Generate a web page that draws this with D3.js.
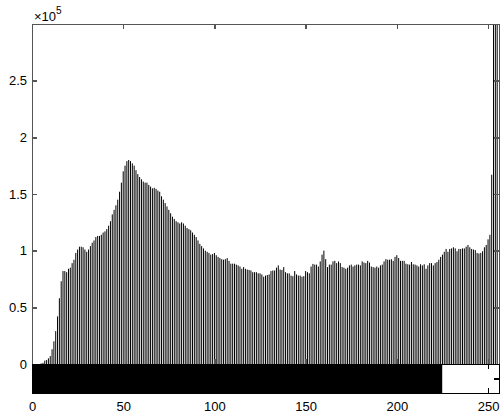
<!DOCTYPE html>
<html>
<head>
<meta charset="utf-8">
<script src="https://cdn.jsdelivr.net/npm/d3@7/dist/d3.min.js"></script>
<style>
  body { margin: 0; background: #fff; }
  text { font-family: "Liberation Sans", Arial, Helvetica, sans-serif; fill: #000; }
  .axis path, .axis line { stroke: #555; stroke-width: 1.5; shape-rendering: crispEdges; }
  .axis text { font-size: 13px; }
</style>
</head>
<body>
<div id="chart"></div>
<script>
// gray levels 0..255 and their pixel counts (in units of 10^5)
var levels = d3.range(0, 256);
var counts = [
  0, 0, 0, 0, 0, 0.005, 0.01, 0.03, 0.035, 0.05,
  0.07, 0.13, 0.2, 0.29, 0.42, 0.58, 0.73, 0.82, 0.82, 0.81,
  0.84, 0.85, 0.89, 0.92, 0.98, 1.01, 1.035, 1.035, 1.03, 1.01,
  0.99, 1.01, 1.04, 1.07, 1.09, 1.12, 1.13, 1.13, 1.14, 1.16,
  1.17, 1.19, 1.22, 1.26, 1.32, 1.36, 1.40, 1.45, 1.52, 1.60,
  1.70, 1.75, 1.79, 1.80, 1.79, 1.77, 1.75, 1.71, 1.675, 1.65,
  1.63, 1.61, 1.60, 1.60, 1.58, 1.565, 1.55, 1.555, 1.545, 1.53,
  1.52, 1.48, 1.45, 1.42, 1.39, 1.36, 1.33, 1.30, 1.28, 1.26,
  1.25, 1.24, 1.25, 1.24, 1.22, 1.20, 1.19, 1.18, 1.16, 1.14,
  1.12, 1.09, 1.06, 1.04, 1.02, 1.00, 0.99, 0.98, 0.965, 0.97,
  0.98, 0.96, 0.945, 0.935, 0.925, 0.92, 0.925, 0.935, 0.91, 0.885,
  0.885, 0.885, 0.877, 0.87, 0.86, 0.84, 0.855, 0.84, 0.833, 0.83,
  0.825, 0.81, 0.81, 0.81, 0.80, 0.80, 0.79, 0.77, 0.78, 0.785,
  0.79, 0.82, 0.825, 0.825, 0.85, 0.87, 0.833, 0.83, 0.855, 0.81,
  0.80, 0.80, 0.78, 0.775, 0.82, 0.79, 0.78, 0.78, 0.77, 0.775,
  0.82, 0.81, 0.80, 0.86, 0.883, 0.877, 0.877, 0.86, 0.905, 0.965,
  1.00, 0.925, 0.855, 0.877, 0.877, 0.905, 0.91, 0.89, 0.905, 0.89,
  0.855, 0.85, 0.84, 0.85, 0.87, 0.877, 0.86, 0.87, 0.877, 0.877,
  0.87, 0.905, 0.895, 0.89, 0.91, 0.895, 0.86, 0.855, 0.85, 0.86,
  0.85, 0.87, 0.877, 0.905, 0.925, 0.92, 0.92, 0.925, 0.91, 0.945,
  0.96, 0.935, 0.91, 0.91, 0.91, 0.885, 0.88, 0.877, 0.90, 0.88,
  0.877, 0.87, 0.86, 0.88, 0.87, 0.88, 0.84, 0.87, 0.89, 0.89,
  0.87, 0.89, 0.90, 0.92, 0.945, 0.965, 0.99, 1.015, 0.99, 1.015,
  1.02, 1.03, 1.02, 0.995, 1.015, 1.015, 1.02, 1.02, 1.035, 1.05,
  1.03, 1.015, 1.01, 1.005, 0.98, 0.975, 0.98, 0.995, 1.03, 1.05,
  1.10, 1.14, 1.67, 3.3, 3.4, 3.5
];
var xTicks = [0, 50, 100, 150, 200, 250];
var yTicks = [0, 0.5, 1, 1.5, 2, 2.5];
var yExponent = "5";
var cbarSplit = 225;   // colour bar turns from black to white here

var width = 501, height = 414;
var box = {left: 32, right: 499, top: 24, bottom: 364};
var cbar = {top: 364, bottom: 393};

var x = d3.scaleLinear().domain([0, 256]).range([box.left, box.right]);
var y = d3.scaleLinear().domain([0, 3]).range([box.bottom, box.top]);
var yc = d3.scaleLinear().domain([0, 1]).range([cbar.bottom, cbar.top]);

var svg = d3.select("#chart").append("svg")
    .attr("width", width)
    .attr("height", height);

svg.append("clipPath").attr("id", "plotclip")
  .append("rect")
    .attr("x", box.left).attr("y", box.top)
    .attr("width", box.right - box.left)
    .attr("height", box.bottom - box.top);

// stems
svg.append("g")
    .attr("clip-path", "url(#plotclip)")
  .selectAll("line")
    .data(levels)
  .enter().append("line")
    .attr("x1", function(d) { return x(d); })
    .attr("x2", function(d) { return x(d); })
    .attr("y1", y(0))
    .attr("y2", function(d) { return y(counts[d]); })
    .attr("stroke", "#000")
    .attr("stroke-width", 1);

// colour bar
svg.append("rect")
    .attr("x", x(0)).attr("y", cbar.top)
    .attr("width", x(cbarSplit) - x(0))
    .attr("height", cbar.bottom - cbar.top)
    .attr("fill", "#000");
svg.append("rect")
    .attr("x", x(cbarSplit)).attr("y", cbar.top)
    .attr("width", x(256) - x(cbarSplit))
    .attr("height", cbar.bottom - cbar.top)
    .attr("fill", "#fff");

// histogram axes box
svg.append("g")
    .attr("class", "axis")
    .attr("transform", "translate(" + box.left + ",0)")
    .call(d3.axisLeft(y).tickValues(yTicks).tickSizeInner(-5).tickSizeOuter(0).tickPadding(5)
      .tickFormat(function(d) { return d; }));

svg.append("g")
    .attr("class", "axis")
    .attr("transform", "translate(" + box.right + ",0)")
    .call(d3.axisRight(y).tickValues(yTicks).tickSizeInner(-5).tickSizeOuter(0).tickFormat(""));

svg.append("g")
    .attr("class", "axis")
    .attr("transform", "translate(0," + box.top + ")")
    .call(d3.axisTop(x).tickValues(xTicks).tickSizeInner(-5).tickSizeOuter(0).tickFormat(""));

svg.append("g")
    .attr("class", "axis")
    .attr("transform", "translate(0," + box.bottom + ")")
    .call(d3.axisBottom(x).tickValues(xTicks).tickSizeInner(-5).tickSizeOuter(0).tickFormat(""));

// colour bar axes
svg.append("g")
    .attr("class", "axis cbar")
    .attr("transform", "translate(0," + cbar.top + ")")
    .call(d3.axisTop(x).tickValues(xTicks).tickSizeInner(-5).tickSizeOuter(0).tickFormat(""));

svg.append("g")
    .attr("class", "axis cbar")
    .attr("transform", "translate(0," + cbar.bottom + ")")
    .call(d3.axisBottom(x).tickValues(xTicks).tickSizeInner(-5).tickSizeOuter(0).tickPadding(9));

svg.append("g")
    .attr("class", "axis cbar")
    .attr("transform", "translate(" + box.right + ",0)")
    .call(d3.axisRight(yc).tickValues([0.5]).tickSizeInner(-5).tickSizeOuter(0).tickFormat(""));

svg.append("g")
    .attr("class", "axis cbar")
    .attr("transform", "translate(" + box.left + ",0)")
    .call(d3.axisLeft(yc).tickValues([0.5]).tickSizeInner(-5).tickSizeOuter(0).tickFormat(""));

svg.selectAll(".cbar path, .cbar line").style("stroke", "#000");

// exponent label
var expo = svg.append("text")
    .attr("x", box.left + 2)
    .attr("y", 21)
    .style("font-size", "13px");
expo.append("tspan").text("\u00d710");
expo.append("tspan").attr("dy", -7).style("font-size", "10px").text(yExponent);
</script>
</body>
</html>
